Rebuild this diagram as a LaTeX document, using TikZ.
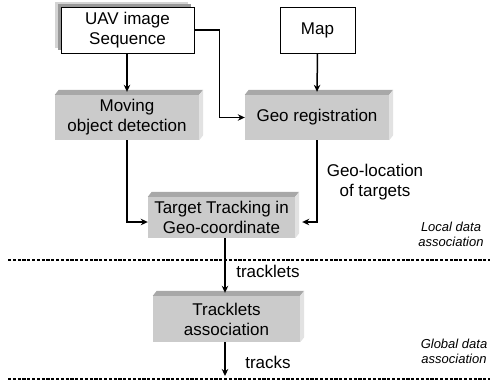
\documentclass[tikz,border=0pt]{standalone}
\usepackage{fontspec}
\setmainfont{Liberation Sans}
\usetikzlibrary{arrows.meta,calc,backgrounds}
\definecolor{boxfront}{HTML}{CBCBCB}
\definecolor{boxtop}{HTML}{A8A8A8}
\definecolor{boxside}{HTML}{E2E2E2}
\definecolor{shadowlight}{HTML}{D4D4D4}
\definecolor{shadowdark}{HTML}{999999}
\begin{document}
\begin{tikzpicture}[x=1pt,y=-1pt,
  lbl/.style={font=\fontsize{17}{20}\selectfont, align=center, inner sep=0pt},
  note/.style={font=\fontsize{13}{15}\selectfont\itshape, align=center, inner sep=0pt},
  wbox/.style={draw, line width=0.9pt, fill=white, inner sep=0pt,
    font=\fontsize{17}{20}\selectfont, align=center},
  gbox/.style={fill=boxfront, inner sep=0pt,
    font=\fontsize{17}{20}\selectfont, align=center},
  conn/.style={line width=1.5pt, -{Stealth[length=7pt,width=6.5pt]}},
  sep/.style={dash pattern=on 3.2pt off 1.6pt, line width=1.6pt}
]
\useasboundingbox (0,0) rectangle (492,381);

% input boxes
\node[wbox, minimum width=133pt, minimum height=46pt] (uav) at (127.5,30) {UAV image\\Sequence};
\node[wbox, minimum width=75pt, minimum height=46pt] (map) at (317.5,30) {Map};

% processing blocks (front faces)
\node[gbox, minimum width=144pt, minimum height=45pt] (mod) at (127,117.5) {Moving\\object detection};
\node[gbox, minimum width=144pt, minimum height=45pt] (geo) at (317,117.5) {Geo registration};
\node[gbox, minimum width=147pt, minimum height=41pt] (trk) at (221.5,217.5) {Target Tracking in\\Geo-coordinate};
\node[gbox, minimum width=147pt, minimum height=46pt] (tla) at (226.5,319) {Tracklets\\association};

% stacked shadow behind the image-sequence box
\begin{scope}[on background layer]
  \fill[shadowlight] ($(uav.north west)+(-6,-5)$) rectangle ($(uav.south east)+(-6,-5)$);
  \fill[shadowdark] ($(uav.north west)+(-3,-3)$) rectangle ($(uav.south east)+(-3,-3)$);
\end{scope}

% top and right bevels of the processing blocks
\foreach \n in {mod,geo,trk,tla}{
  \fill[boxtop] (\n.north west) -- ++(4,-5) -- ($(\n.north east)+(4,-5)$) -- (\n.north east) -- cycle;
  \fill[boxside] (\n.north east) -- ++(4,-5) -- ($(\n.south east)+(4,-5)$) -- (\n.south east) -- cycle;
}

% connectors
\draw[conn] (uav.south -| mod.north) -- ($(mod.north)+(0,-3)$);
\draw[conn] (uav.east) -- ++(25,0) |- (geo.west);
\draw[conn] (map.south) -- ($(geo.north)+(0,-3)$);
\draw[conn] (mod.south) |- ($(trk.west)+(0,4.5)$);
\draw[conn] (geo.south) |- ($(trk.east)+(7,4.5)$);
\draw[conn] ($(trk.south)+(3.5,0)$) -- ($(tla.north)+(-1.5,-3)$);
\coordinate (out) at (225,376);
\draw[conn] ($(tla.south)+(-1.5,0)$) -- (out);

% edge labels
\node[lbl] (geoloc) at (375,182) {Geo-location\\of targets};
\node[lbl] (tlets) at (268,271) {tracklets};
\node[lbl] (trks) at (268,362) {tracks};

% stage separators
\coordinate (s1a) at (8,260);
\coordinate (s1b) at (490,260);
\coordinate (s2a) at (8,379);
\coordinate (s2b) at (490,379);
\draw[sep] (s1a) -- (s1b);
\draw[sep] (s2a) -- (s2b);

% stage names
\node[note] (local) at (451,234.5) {Local data\\association};
\node[note] (global) at (454,351.5) {Global data\\association};
\end{tikzpicture}
\end{document}
